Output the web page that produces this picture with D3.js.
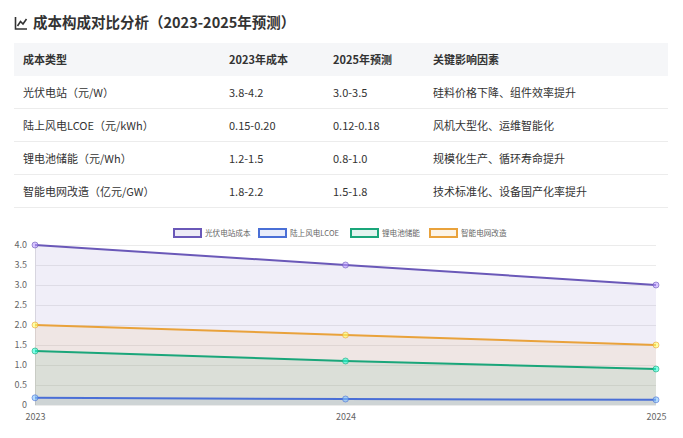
<!DOCTYPE html>
<html><head><meta charset="utf-8">
<script src="https://cdn.jsdelivr.net/npm/d3@7/dist/d3.min.js"></script>
<style>
html,body{margin:0;padding:0;background:#fff;font-family:"Noto Sans CJK SC","Noto Sans",sans-serif;}
svg{display:block;}
</style></head>
<body>
<svg id="c" width="683" height="438"></svg>
<script>
const title = "成本构成对比分析（2023-2025年预测）";
const tableHeaders = ["成本类型", "2023年成本", "2025年预测", "关键影响因素"];
const costTypes = ["光伏电站（元/W）", "陆上风电LCOE（元/kWh）", "锂电池储能（元/Wh）", "智能电网改造（亿元/GW）"];
const cost2023 = ["3.8-4.2", "0.15-0.20", "1.2-1.5", "1.8-2.2"];
const cost2025 = ["3.0-3.5", "0.12-0.18", "0.8-1.0", "1.5-1.8"];
const factors = ["硅料价格下降、组件效率提升", "风机大型化、运维智能化", "规模化生产、循环寿命提升", "技术标准化、设备国产化率提升"];

const years = ["2023", "2024", "2025"];
const seriesNames = ["光伏电站成本", "陆上风电LCOE", "锂电池储能", "智能电网改造"];
const pvValues = [4.0, 3.5, 3.0];
const windValues = [0.18, 0.15, 0.13];
const batteryValues = [1.35, 1.1, 0.9];
const gridValues = [2.0, 1.75, 1.5];
const yTicks = [0, 0.5, 1.0, 1.5, 2.0, 2.5, 3.0, 3.5, 4.0];

const colors = ["#6a58b8", "#4a6fd6", "#1aa67a", "#e9a23b"];
const seriesValues = [pvValues, windValues, batteryValues, gridValues];

const svg = d3.select("#c");
const font = '"Noto Sans CJK SC","Noto Sans",sans-serif';

// Title
const tg = svg.append("g");
tg.append("path").attr("d","M15.5,17 L15.5,29 L27,29").attr("fill","none").attr("stroke","#333").attr("stroke-width",1.6);
tg.append("path").attr("d","M17.5,26 L20.5,21.5 L23,24 L26.5,19").attr("fill","none").attr("stroke","#333").attr("stroke-width",1.6);
svg.append("text").attr("x",33).attr("y",28).attr("font-size",14.5).attr("font-weight",700)
  .attr("fill","#333").attr("font-family",font).text(title);

// Table
const tX0 = 14, tX1 = 668, hdrTop = 43, rowH = 33;
const colX = [23, 229, 333, 433];
svg.append("rect").attr("x",tX0).attr("y",hdrTop).attr("width",tX1-tX0).attr("height",rowH).attr("fill","#f5f6f8");
tableHeaders.forEach((h,i)=>{
  svg.append("text").attr("x",colX[i]).attr("y",hdrTop+rowH/2+4).attr("font-size",11).attr("font-weight",700)
    .attr("fill","#333").attr("font-family",font).text(h);
});
const rows = costTypes.map((c,i)=>[c, cost2023[i], cost2025[i], factors[i]]);
rows.forEach((r,ri)=>{
  const top = hdrTop + rowH*(ri+1);
  r.forEach((t,ci)=>{
    svg.append("text").attr("x",colX[ci]).attr("y",top+rowH/2+4).attr("font-size",11)
      .attr("fill","#333").attr("font-family",font).text(t);
  });
  svg.append("line").attr("x1",tX0).attr("x2",tX1).attr("y1",top+rowH-0.5).attr("y2",top+rowH-0.5)
    .attr("stroke","#ececec").attr("stroke-width",1);
});

// Chart
const x = d3.scalePoint().domain(years).range([35, 656]);
const y = d3.scaleLinear().domain([0, 4]).range([405, 245]);

const grid = svg.append("g");
yTicks.forEach(t=>{
  grid.append("line").attr("x1",35).attr("x2",656).attr("y1",y(t)+0.5).attr("y2",y(t)+0.5)
    .attr("stroke","#ebebeb").attr("stroke-width",1);
});
grid.append("line").attr("x1",35.5).attr("x2",35.5).attr("y1",245).attr("y2",405).attr("stroke","#e4e4e4");

const yAxis = svg.append("g").attr("transform","translate(35,0)")
  .call(d3.axisLeft(y).tickValues(yTicks).tickSize(0).tickPadding(8).tickFormat(d=> d===0 ? "0" : d3.format(".1f")(d)));
yAxis.select(".domain").remove();
yAxis.selectAll("text").attr("font-size",9).attr("fill","#666").attr("font-family",font);

const xAxis = svg.append("g").attr("transform","translate(0,405)")
  .call(d3.axisBottom(x).tickSize(0).tickPadding(9));
xAxis.select(".domain").remove();
xAxis.selectAll("text").attr("font-size",9).attr("fill","#666").attr("font-family",font);

const area = d3.area().x((d,i)=>x(years[i])).y0(y(0)).y1(d=>y(d));
const line = d3.line().x((d,i)=>x(years[i])).y(d=>y(d));

seriesValues.forEach((vals,si)=>{
  svg.append("path").datum(vals).attr("d",area).attr("fill",colors[si]).attr("fill-opacity",0.1);
});
seriesValues.forEach((vals,si)=>{
  svg.append("path").datum(vals).attr("d",line).attr("fill","none").attr("stroke",colors[si]).attr("stroke-width",2);
  svg.selectAll(null).data(vals).enter().append("circle")
    .attr("cx",(d,i)=>x(years[i])).attr("cy",d=>y(d)).attr("r",3)
    .attr("fill", d3.color(colors[si]).brighter(1.6).copy({opacity:0.6}))
    .attr("stroke",colors[si]).attr("stroke-opacity",0.6).attr("stroke-width",1);
});

// Legend
const legX = [174, 259, 351, 430];
seriesNames.forEach((n,i)=>{
  const c = colors[i];
  svg.append("rect").attr("x",legX[i]).attr("y",229).attr("width",27).attr("height",8)
    .attr("fill",c).attr("fill-opacity",0.12).attr("stroke",c).attr("stroke-width",2);
  svg.append("text").attr("x",legX[i]+31).attr("y",236.2).attr("font-size",7.6).attr("fill","#666")
    .attr("font-family",font).text(n);
});
</script>
</body></html>
